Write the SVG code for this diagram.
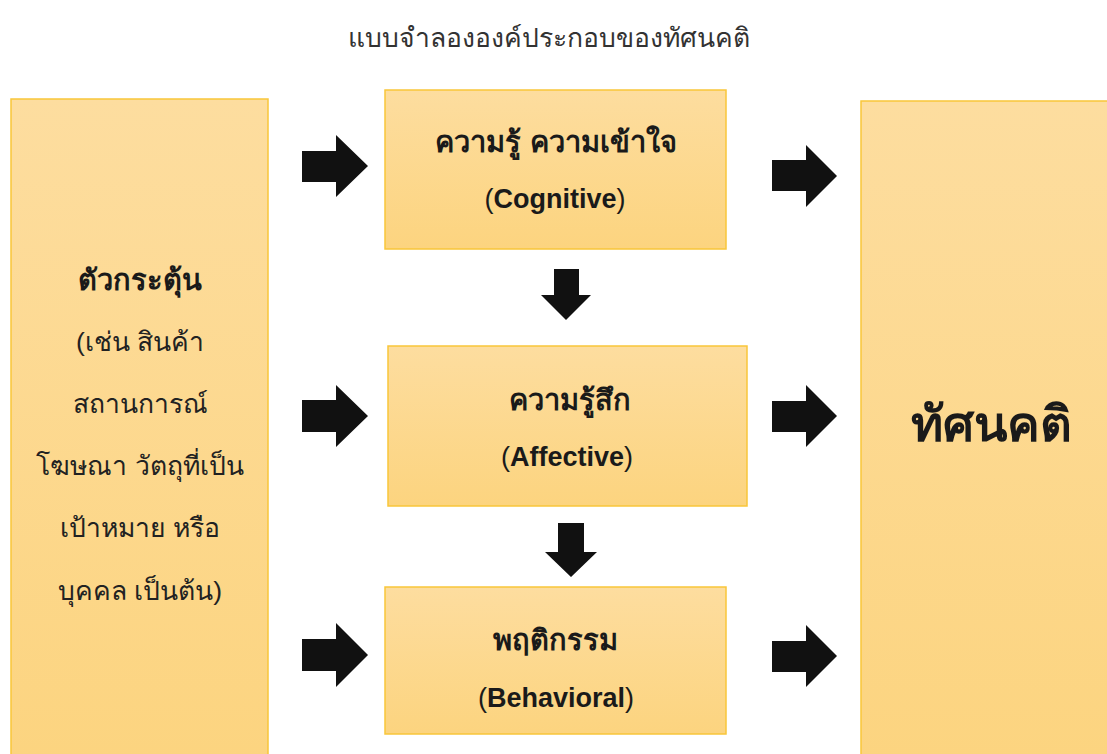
<svg xmlns="http://www.w3.org/2000/svg" width="1107" height="754" viewBox="0 0 1107 754">
<defs>
<linearGradient id="g" x1="0" y1="0" x2="0" y2="1">
<stop offset="0" stop-color="#FDDD9F"/>
<stop offset="1" stop-color="#FCD47F"/>
</linearGradient>
<style>
.box{fill:url(#g);stroke:#F9C63A;stroke-width:1.5}
.arr{fill:#111111}
.t{font-family:"Liberation Sans","Noto Sans","DejaVu Sans",sans-serif;fill:#1a1a1a;text-anchor:middle}
.b{font-weight:bold;font-size:29px}
.e{font-weight:bold;font-size:27px}
.r{font-size:26.5px;fill:#222}
.title{font-size:26.5px;fill:#333}
.big{font-weight:bold;font-size:49px}
</style>
</defs>
<rect width="1107" height="754" fill="#ffffff"/>
<text class="t title" x="549" y="47">แบบจำลององค์ประกอบของทัศนคติ</text>
<g id="stimulus">
<rect class="box" x="11" y="99" width="257" height="670"/>
<text class="t b" x="140" y="290">ตัวกระตุ้น</text>
<text class="t r" x="140" y="351">(เช่น สินค้า</text>
<text class="t r" x="140" y="413">สถานการณ์</text>
<text class="t r" x="140" y="475">โฆษณา วัตถุที่เป็น</text>
<text class="t r" x="140" y="537">เป้าหมาย หรือ</text>
<text class="t r" x="140" y="600">บุคคล เป็นต้น)</text>
</g>
<g id="cognitive">
<rect class="box" x="385" y="90" width="341" height="159"/>
<text class="t b" x="556" y="152">ความรู้ ความเข้าใจ</text>
<text class="t e" x="555" y="208"><tspan font-weight="normal">(</tspan>Cognitive<tspan font-weight="normal">)</tspan></text>
</g>
<g id="affective">
<rect class="box" x="388" y="346" width="359" height="160"/>
<text class="t b" x="570" y="410">ความรู้สึก</text>
<text class="t e" x="567" y="466"><tspan font-weight="normal">(</tspan>Affective<tspan font-weight="normal">)</tspan></text>
</g>
<g id="behavioral">
<rect class="box" x="385" y="587" width="341" height="147"/>
<text class="t b" x="555" y="650">พฤติกรรม</text>
<text class="t e" x="556" y="707"><tspan font-weight="normal">(</tspan>Behavioral<tspan font-weight="normal">)</tspan></text>
</g>
<g id="attitude">
<rect class="box" x="861" y="101" width="260" height="670"/>
<text class="t big" x="991" y="441">ทัศนคติ</text>
</g>
<g id="connectors">
<polygon class="arr" points="302,151 336,151 336,135 368,166 336,197 336,182 302,182"/>
<polygon class="arr" points="302,400 336,400 336,385 368,416 336,447 336,432 302,432"/>
<polygon class="arr" points="302,639 336,639 336,623 368,655 336,687 336,671 302,671"/>
<polygon class="arr" points="772,160 806,160 806,145 837,176 806,207 806,191 772,191"/>
<polygon class="arr" points="772,401 806,401 806,385 837,416 806,447 806,432 772,432"/>
<polygon class="arr" points="772,641 806,641 806,625 837,656 806,687 806,672 772,672"/>
<polygon class="arr" points="554,269 579,269 579,295 591,295 566,320 541,295 554,295"/>
<polygon class="arr" points="558,523 584,523 584,552 597,552 571,577 545,552 558,552"/>
</g>
</svg>
